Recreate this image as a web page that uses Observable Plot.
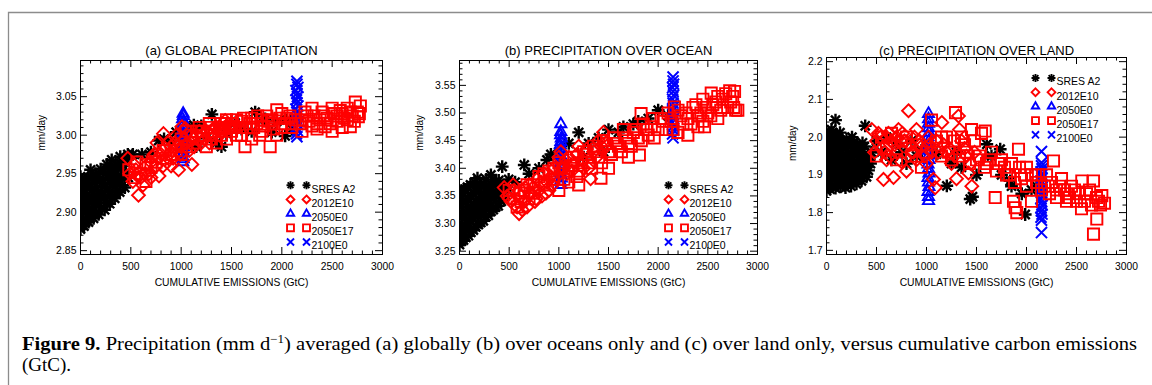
<!DOCTYPE html>
<html><head><meta charset="utf-8">
<script src="https://cdn.jsdelivr.net/npm/d3@7"></script>
<script src="https://cdn.jsdelivr.net/npm/@observablehq/plot@0.6"></script>
<style>
html,body{margin:0;padding:0;background:#fff;}
#page{position:relative;width:1152px;height:385px;overflow:hidden;background:#fff;}
.panel{position:absolute;top:0;}
</style></head><body><div id="page"></div>
<script>
// ---------- labels ----------
const panelTitles = ["(a) GLOBAL PRECIPITATION", "(b) PRECIPITATION OVER OCEAN", "(c) PRECIPITATION OVER LAND"];
const xAxisLabel = "CUMULATIVE EMISSIONS (GtC)";
const yAxisLabel = "mm/day";
const xTickLabels = [0, 500, 1000, 1500, 2000, 2500, 3000];
const aYTicks = [2.85, 2.90, 2.95, 3.00, 3.05];
const bYTicks = [3.25, 3.30, 3.35, 3.40, 3.45, 3.50, 3.55];
const cYTicks = [1.7, 1.8, 1.9, 2.0, 2.1, 2.2];
const seriesNames = ["SRES A2", "2012E10", "2050E0", "2050E17", "2100E0"];
const seriesColors = ["#000000", "#ff0000", "#0000ff", "#ff0000", "#0000ff"];
const seriesSymbols = [["plus", "times"], ["diamond2"], ["triangle2"], ["square2"], ["times"]];
const captionBold = "Figure 9.";
const captionLine1a = " Precipitation (mm d";
const captionSup = "−1";
const captionLine1b = ") averaged (a) globally (b) over oceans only and (c) over land only, versus cumulative carbon emissions";
const captionLine2 = "(GtC).";

// ---------- (a) global ----------
const aA2 = [[0,2.878],[0,2.893],[0,2.908],[0,2.922],[0,2.936],[0,2.946],
[20,2.886],[15,2.901],[20,2.915],[18,2.930],[22,2.941],
[35,2.882],[30,2.899],[40,2.914],[35,2.929],[45,2.942],
[60,2.890],[55,2.906],[62,2.921],[58,2.936],
[80,2.887],[75,2.903],[85,2.918],[90,2.933],[100,2.955],[80,2.945],
[105,2.896],[110,2.912],[108,2.928],[112,2.944],
[130,2.892],[125,2.907],[135,2.922],[140,2.938],[150,2.950],
[158,2.900],[160,2.916],[162,2.932],[165,2.946],
[180,2.897],[185,2.912],[175,2.927],[190,2.942],[200,2.956],
[210,2.906],[215,2.922],[212,2.938],[218,2.952],
[240,2.903],[235,2.918],[245,2.933],[250,2.950],[262,2.962],
[265,2.912],[268,2.928],[270,2.944],
[290,2.911],[285,2.926],[300,2.941],[295,2.957],[310,2.968],
[318,2.920],[320,2.936],[322,2.952],
[340,2.918],[345,2.934],[335,2.950],[350,2.962],
[368,2.928],[365,2.944],[370,2.960],
[390,2.926],[385,2.942],[400,2.958],[395,2.972],
[418,2.935],[420,2.950],[425,2.965],
[440,2.932],[445,2.948],[450,2.964],[470,2.975],[475,2.945],
[520,2.975],[610,2.975],[700,2.978],[776,2.993],[830,2.995],[900,2.992],[950,3.004],[1000,3.000],[1080,3.008],[1126,3.013],[1200,3.012],[1150,2.985],[1250,2.996],[1305,3.027],[1350,2.990],[1400,2.985],[1450,3.002],[1536,3.016],[1600,3.008],[1700,3.005],[1735,3.030],[1834,3.021],[1900,3.004],[1950,3.018],[2033,2.999],[2050,3.020],[2100,3.008]];
const aE10 = [[470,2.970],[490,2.950],[520,2.940],[530,2.962],[550,2.955],[560,2.948],[576,2.922],[600,2.945],[620,2.935],[640,2.950],[650,2.960],[680,2.950],[700,2.965],[700,2.945],[720,2.972],[730,2.975],[750,2.960],[770,2.970],[780,2.947],[800,2.975],[820,2.960],[824,3.002],[841,2.983],[860,2.965],[870,2.990],[880,2.975],[900,2.985],[900,2.960],[920,2.970],[940,2.990],[960,2.985],[974,2.955],[990,2.975],[1007,3.011],[1030,2.995],[1040,3.009],[1060,2.990],[1080,2.980],[1106,2.962],[1120,2.995],[1130,2.985],[1150,3.000],[1180,3.005],[1200,2.990],[1230,2.995],[1250,3.005],[1280,2.990],[1300,3.000],[1330,3.010],[1350,3.010],[1380,3.000],[1400,3.005],[1430,3.010],[1437,3.019],[1480,3.012],[950,3.000],[1000,2.985],[760,2.990]];
const aE2050 = [[1015,2.965],[1020,2.969],[1010,2.973],[1025,2.977],[1015,2.981],[1020,2.985],[1010,2.989],[1025,2.993],[1018,2.997],[1020,3.001],[1012,3.005],[1024,3.009],[1016,3.013],[1020,3.017],[1014,3.021],[1022,3.025],[1020,3.028]];
const aE17 = [[480,2.955],[540,2.945],[560,2.965],[600,2.950],[650,2.940],[650,2.962],[700,2.958],[750,2.965],[820,2.980],[850,2.970],[900,2.975],[950,2.980],[1000,2.995],[1000,2.975],[1050,2.985],[1050,3.005],[1100,3.000],[1120,2.990],[1150,3.005],[1180,3.010],[1200,2.995],[1200,3.005],[1220,3.000],[1250,2.985],[1280,3.015],[1300,3.010],[1300,2.995],[1330,3.005],[1350,2.990],[1380,3.010],[1400,3.015],[1400,3.000],[1420,3.008],[1450,3.020],[1450,2.995],[1480,3.010],[1500,3.015],[1500,3.005],[1520,3.012],[1550,3.020],[1550,3.000],[1580,3.010],[1600,3.018],[1600,3.000],[1620,3.022],[1634,2.985],[1650,3.010],[1680,3.015],[1700,3.022],[1700,2.995],[1720,3.010],[1750,3.015],[1760,3.025],[1780,3.000],[1800,3.020],[1800,3.005],[1820,3.012],[1850,3.025],[1870,3.018],[1884,2.985],[1900,3.015],[1900,3.020],[1920,3.008],[1950,3.033],[1950,3.000],[1980,3.022],[2000,3.028],[2000,3.010],[2030,3.015],[2050,3.022],[2080,3.025],[2100,3.010],[2100,3.015],[2130,3.020],[2180,3.015],[2200,3.020],[2200,3.005],[2230,3.030],[2250,3.025],[2270,3.018],[2300,3.035],[2300,3.012],[2320,3.025],[2350,3.015],[2350,3.008],[2380,3.020],[2400,3.030],[2420,3.025],[2430,3.011],[2450,3.022],[2480,3.015],[2500,3.035],[2500,3.005],[2520,3.028],[2550,3.018],[2550,3.025],[2580,3.032],[2600,3.028],[2600,3.010],[2620,3.022],[2650,3.035],[2650,3.020],[2680,3.011],[2680,3.030],[2700,3.025],[2720,3.018],[2730,3.043],[2750,3.030],[2760,3.024],[2770,3.028],[2780,3.038]];
const aE2100 = [[2150,2.998],[2145,3.002],[2155,3.006],[2140,3.010],[2160,3.014],[2150,3.018],[2145,3.022],[2155,3.026],[2150,3.030],[2140,3.034],[2160,3.038],[2150,3.042],[2145,3.046],[2155,3.050],[2150,3.054],[2140,3.058],[2160,3.062],[2150,3.066],[2150,3.070]];

// ---------- (b) ocean ----------
const bA2 = [[0,3.262],[0,3.280],[0,3.300],[0,3.320],[0,3.340],[0,3.356],
[20,3.268],[18,3.290],[22,3.310],[20,3.330],[18,3.350],
[40,3.270],[45,3.292],[35,3.315],[40,3.338],[45,3.360],
[65,3.275],[62,3.296],[68,3.318],[65,3.340],[60,3.362],
[90,3.278],[85,3.300],[95,3.322],[90,3.345],[80,3.366],
[115,3.284],[112,3.305],[118,3.328],[115,3.350],[110,3.370],
[140,3.288],[135,3.310],[145,3.332],[140,3.355],[150,3.375],
[165,3.294],[162,3.316],[168,3.338],[165,3.360],
[190,3.298],[185,3.320],[195,3.342],[190,3.364],[181,3.382],
[215,3.302],[212,3.325],[218,3.348],[215,3.370],
[240,3.305],[235,3.330],[245,3.352],[250,3.372],
[265,3.312],[268,3.335],[262,3.358],[270,3.380],
[290,3.315],[285,3.338],[295,3.360],[316,3.388],
[318,3.322],[315,3.345],[320,3.366],
[340,3.325],[345,3.348],[335,3.370],
[365,3.330],[362,3.352],[368,3.375],
[390,3.332],[385,3.355],[395,3.378],
[420,3.340],[418,3.362],[430,3.403],[450,3.345],[455,3.368],[490,3.360],[495,3.380],
[560,3.375],[652,3.406],[700,3.390],[800,3.400],[880,3.415],[920,3.425],[1000,3.430],[1100,3.445],[1200,3.465],[1250,3.420],[1300,3.445],[1400,3.455],[1450,3.430],[1500,3.470],[1600,3.465],[1650,3.475],[1750,3.480],[1800,3.485],[1900,3.490],[2000,3.505],[2100,3.495]];
const bE10 = [[450,3.365],[480,3.350],[500,3.345],[520,3.340],[540,3.370],[550,3.360],[580,3.330],[600,3.318],[620,3.350],[630,3.325],[650,3.340],[660,3.365],[680,3.330],[700,3.370],[720,3.355],[740,3.365],[760,3.340],[770,3.345],[780,3.380],[800,3.360],[820,3.375],[830,3.350],[850,3.390],[870,3.355],[880,3.375],[900,3.360],[920,3.385],[940,3.370],[950,3.400],[980,3.385],[1000,3.420],[1020,3.430],[1030,3.400],[1050,3.400],[1070,3.415],[1080,3.390],[1100,3.420],[1130,3.395],[1150,3.410],[1180,3.425],[1200,3.440],[1230,3.415],[1250,3.400],[1280,3.435],[1300,3.400],[1320,3.381],[1350,3.430],[1380,3.420],[1400,3.450],[1430,3.440],[1450,3.465],[1480,3.440]];
const bE2050 = [[1020,3.370],[1015,3.376],[1025,3.382],[1020,3.388],[1010,3.394],[1025,3.400],[1015,3.406],[1020,3.412],[1020,3.418],[1015,3.424],[1025,3.430],[1020,3.436],[1015,3.442],[1020,3.448],[1025,3.454],[1018,3.460],[1020,3.466],[1020,3.480]];
const bE17 = [[500,3.360],[550,3.345],[580,3.330],[600,3.355],[620,3.340],[650,3.360],[680,3.370],[700,3.345],[750,3.370],[750,3.355],[800,3.385],[850,3.370],[850,3.390],[900,3.395],[950,3.380],[950,3.400],[1000,3.410],[1000,3.360],[1050,3.380],[1050,3.400],[1100,3.395],[1100,3.375],[1130,3.405],[1150,3.420],[1180,3.385],[1200,3.395],[1200,3.370],[1230,3.410],[1250,3.430],[1280,3.425],[1300,3.410],[1330,3.400],[1350,3.440],[1380,3.435],[1400,3.420],[1424,3.382],[1430,3.410],[1450,3.450],[1480,3.445],[1500,3.430],[1500,3.400],[1530,3.425],[1550,3.455],[1580,3.445],[1600,3.440],[1630,3.430],[1650,3.470],[1680,3.455],[1700,3.445],[1700,3.420],[1730,3.440],[1750,3.465],[1780,3.470],[1800,3.455],[1811,3.424],[1828,3.499],[1830,3.450],[1850,3.480],[1880,3.470],[1900,3.460],[1930,3.475],[1950,3.490],[1960,3.455],[2000,3.470],[2030,3.490],[2050,3.485],[2080,3.470],[2100,3.500],[2130,3.485],[2150,3.470],[2164,3.511],[2200,3.465],[2200,3.505],[2230,3.495],[2250,3.480],[2280,3.500],[2299,3.460],[2300,3.490],[2330,3.480],[2350,3.510],[2380,3.515],[2400,3.495],[2400,3.475],[2430,3.500],[2450,3.525],[2450,3.485],[2467,3.475],[2480,3.510],[2500,3.500],[2530,3.495],[2534,3.536],[2550,3.515],[2580,3.520],[2600,3.490],[2600,3.530],[2630,3.505],[2650,3.525],[2680,3.535],[2700,3.510],[2720,3.540],[2730,3.520],[2750,3.530],[2760,3.510],[2769,3.539],[2780,3.505],[2802,3.505]];
const bE2100 = [[2150,3.455],[2145,3.462],[2155,3.469],[2150,3.476],[2145,3.483],[2155,3.490],[2150,3.497],[2145,3.504],[2155,3.511],[2150,3.518],[2145,3.525],[2155,3.532],[2150,3.539],[2145,3.546],[2155,3.552],[2150,3.558],[2150,3.565]];

// ---------- (c) land ----------
const cA2 = [[0,1.858],[0,1.880],[0,1.902],[0,1.925],[0,1.948],[0,1.970],[0,1.992],[0,2.015],
[15,1.870],[18,1.892],[15,1.914],[20,1.936],[15,1.960],[18,1.982],[20,2.005],
[35,1.862],[30,1.885],[40,1.908],[35,1.932],[45,1.955],[30,1.978],[40,2.000],[50,2.020],
[62,1.872],[60,1.896],[65,1.920],[62,1.944],[60,1.968],[65,1.992],[62,2.012],
[90,1.865],[85,1.890],[95,1.915],[80,1.938],[100,1.962],[90,1.985],[95,2.008],[90,2.045],
[115,1.876],[112,1.902],[118,1.928],[115,1.952],[112,1.976],[118,2.000],
[140,1.868],[145,1.892],[135,1.918],[150,1.942],[140,1.966],[145,1.990],[135,2.012],
[165,1.878],[168,1.904],[162,1.930],[168,1.955],[165,1.980],
[190,1.866],[195,1.894],[185,1.920],[200,1.945],[190,1.970],[200,1.995],
[218,1.880],[215,1.906],[220,1.932],[218,1.958],[215,1.984],
[245,1.870],[240,1.896],[250,1.922],[245,1.948],[240,1.975],[255,2.000],
[272,1.884],[270,1.910],[275,1.936],[270,1.962],[275,1.988],
[300,1.876],[295,1.900],[305,1.926],[300,1.952],[310,1.978],
[325,1.890],[328,1.915],[322,1.940],[328,1.966],
[350,1.884],[345,1.910],[355,1.935],[350,1.960],[360,1.985],
[375,1.898],[378,1.925],[372,1.950],[378,1.975],
[400,1.895],[395,1.920],[405,1.945],[387,2.030],[420,1.912],[425,1.940],[440,1.930],[450,1.960],
[500,1.990],[550,1.960],[600,2.000],[650,1.940],[700,1.985],[750,1.960],[800,1.930],[850,1.990],[900,1.950],[950,1.965],[1100,1.955],[1203,1.871],[1250,1.930],[1300,1.960],[1350,1.920],[1437,1.836],[1460,1.842],[1500,1.900],[1603,1.981],[1650,1.950],[1737,1.968],[1750,1.900],[1837,1.884],[1850,1.870],[1953,1.850],[1987,1.795],[2050,1.860],[2100,1.870]];
const cE10 = [[453,2.020],[480,1.960],[500,1.990],[520,2.010],[540,2.000],[550,1.970],[570,1.888],[580,1.960],[600,1.940],[600,2.000],[620,2.010],[630,1.950],[650,1.990],[670,1.893],[680,1.980],[700,1.960],[700,2.000],[720,2.020],[740,1.990],[750,1.935],[760,2.010],[780,1.990],[800,1.910],[820,2.070],[830,1.980],[850,1.960],[870,1.960],[880,2.000],[900,1.940],[900,2.020],[930,1.990],[950,1.975],[980,1.950],[1000,1.930],[1020,2.000],[1030,1.980],[1050,1.960],[1070,1.888],[1087,1.866],[1100,1.990],[1120,1.960],[1153,2.039],[1170,1.980],[1200,1.960],[1230,1.970],[1250,1.930],[1280,1.950],[1300,1.890],[1320,2.056],[1330,2.020],[1350,1.990],[1380,1.970],[1400,1.950],[1420,1.905],[1440,1.930],[1453,1.870],[1480,1.960]];
const cE2050 = [[1020,1.831],[1020,1.842],[1015,1.855],[1025,1.868],[1020,1.880],[1015,1.892],[1025,1.904],[1020,1.916],[1015,1.928],[1025,1.940],[1020,1.952],[1015,1.964],[1025,1.976],[1020,1.988],[1015,2.000],[1025,2.012],[1020,2.024],[1020,2.036],[1020,2.048],[1020,2.062]];
const cE17 = [[500,1.950],[550,2.000],[600,1.970],[650,2.010],[700,1.940],[750,1.990],[800,2.000],[850,1.950],[900,1.980],[950,1.920],[1000,1.960],[1050,2.045],[1100,1.990],[1150,1.950],[1150,2.000],[1200,2.000],[1220,1.960],[1250,1.940],[1280,1.990],[1290,2.065],[1330,1.950],[1350,2.000],[1380,1.980],[1400,1.960],[1430,1.930],[1450,2.020],[1480,1.990],[1500,1.940],[1530,1.950],[1550,2.010],[1580,1.920],[1587,2.016],[1600,1.930],[1630,1.940],[1650,1.960],[1687,1.840],[1700,1.910],[1720,1.930],[1750,1.940],[1780,1.920],[1800,1.900],[1830,1.900],[1850,1.930],[1870,1.830],[1880,1.880],[1887,1.813],[1903,1.800],[1920,1.968],[1930,1.920],[1950,1.890],[1980,1.900],[2000,1.920],[2000,1.870],[2050,1.900],[2050,1.830],[2100,1.880],[2120,1.900],[2150,1.860],[2180,1.870],[2200,1.900],[2230,1.850],[2250,1.880],[2270,1.937],[2300,1.860],[2300,1.840],[2330,1.870],[2350,1.890],[2380,1.860],[2400,1.850],[2400,1.830],[2430,1.840],[2450,1.870],[2480,1.860],[2500,1.830],[2530,1.850],[2550,1.810],[2553,1.884],[2580,1.830],[2600,1.850],[2630,1.860],[2650,1.820],[2670,1.884],[2670,1.743],[2700,1.840],[2703,1.783],[2720,1.830],[2740,1.820],[2753,1.845],[2780,1.825]];
const cE2100 = [[2150,1.747],[2150,1.780],[2145,1.788],[2155,1.796],[2150,1.804],[2145,1.812],[2155,1.820],[2150,1.828],[2145,1.836],[2155,1.844],[2150,1.852],[2145,1.860],[2155,1.868],[2150,1.876],[2145,1.884],[2155,1.892],[2150,1.900],[2145,1.908],[2155,1.916],[2150,1.924],[2150,1.932],[2150,1.962]];

// ---------- drawing ----------
const FONT = "'Liberation Sans', Arial, Helvetica, sans-serif";
const symbolR = [4.2, 5.8, 5.3, 7.1, 5.1];
const symbolW = [2.4, 1.9, 1.9, 1.9, 2];
const legendR = [2.7, 3.5, 3.5, 4.4, 3.3];

function panel(cfg) {
  const {xDomain, yDomain, ml, mr, mt, mb, width, height} = cfg;
  const innerW = width - ml - mr, innerH = height - mt - mb;
  const pxX = (xDomain[1] - xDomain[0]) / innerW, pxY = (yDomain[1] - yDomain[0]) / innerH;
  const MAJ = 7, MIN = 3.5;
  const xMinor = d3.range(0, Math.round(xDomain[1] / cfg.xMinorStep) + 1).map(k => k * cfg.xMinorStep);
  const k0 = Math.ceil(yDomain[0] / cfg.yMinorStep - 1e-9), k1 = Math.floor(yDomain[1] / cfg.yMinorStep + 1e-9);
  const yMinor = d3.range(k0, k1 + 1).map(k => +(k * cfg.yMinorStep).toFixed(6));
  const isMaj = (v, s) => Math.abs(v / s - Math.round(v / s)) < 1e-6;
  const lx = v => (isMaj(v, cfg.xMajorStep) ? MAJ : MIN);
  const ly = v => (isMaj(v, cfg.yMajorStep) ? MAJ : MIN);
  const marks = [
    Plot.ruleX(xMinor, {x: d => d, y1: () => yDomain[0], y2: d => yDomain[0] + lx(d) * pxY, stroke: "#000", strokeWidth: 1}),
    Plot.ruleX(xMinor, {x: d => d, y1: () => yDomain[1], y2: d => yDomain[1] - lx(d) * pxY, stroke: "#000", strokeWidth: 1}),
    Plot.ruleY(yMinor, {y: d => d, x1: () => xDomain[0], x2: d => xDomain[0] + ly(d) * pxX, stroke: "#000", strokeWidth: 1}),
    Plot.ruleY(yMinor, {y: d => d, x1: () => xDomain[1], x2: d => xDomain[1] - ly(d) * pxX, stroke: "#000", strokeWidth: 1})
  ];
  // draw order: A2, 2050E0, 2100E0, 2012E10, 2050E17
  const order = [0, 2, 4, 1, 3];
  for (const i of order) {
    for (const sym of seriesSymbols[i]) {
      marks.push(Plot.dot(cfg.series[i], {x: d => d[0], y: d => d[1], symbol: sym, stroke: seriesColors[i], fill: "none", r: symbolR[i], strokeWidth: symbolW[i], clip: true}));
    }
  }
  marks.push(Plot.frame({stroke: "#000", strokeWidth: 1}));
  marks.push(Plot.axisX({ticks: xTickLabels, tickSize: 0, tickPadding: 8, label: null, fontSize: 10.3, tickFormat: d3.format("d")}));
  marks.push(Plot.axisY({ticks: cfg.yTicks, tickSize: 0, tickPadding: 4, label: null, fontSize: 10.5, tickFormat: d3.format(cfg.yFormat)}));
  marks.push(Plot.text([cfg.title], {x: null, y: null, text: d => d, frameAnchor: "top", dy: cfg.titleDy, fontSize: 13}));
  marks.push(Plot.text([xAxisLabel], {x: null, y: null, text: d => d, frameAnchor: "bottom", dy: 31, fontSize: 10.3}));
  marks.push(Plot.text([yAxisLabel], {x: null, y: null, text: d => d, frameAnchor: "left", dx: cfg.yLabDx, dy: cfg.yLabDy, rotate: -90, fontSize: 10}));
  for (let i = 0; i < 5; i++) {
    const dy = cfg.legY + i * cfg.legStep;
    for (const dx of [cfg.legX1, cfg.legX2]) {
      for (const sym of seriesSymbols[i]) {
        marks.push(Plot.dot([i], {x: null, y: null, frameAnchor: "top-left", dx, dy, symbol: sym, stroke: seriesColors[i], fill: "none", r: legendR[i], strokeWidth: 1.9}));
      }
    }
    marks.push(Plot.text([seriesNames[i]], {x: null, y: null, text: d => d, frameAnchor: "top-left", dx: cfg.legXT, dy, textAnchor: "start", fontSize: 10.5}));
  }
  const svg = Plot.plot({
    width, height, marginLeft: ml, marginRight: mr, marginTop: mt, marginBottom: mb,
    x: {domain: xDomain}, y: {domain: yDomain},
    style: {fontFamily: FONT, fontSize: "10px", background: "transparent", color: "#000", overflow: "visible"},
    marks
  });
  const holder = document.createElement("div");
  holder.className = "panel";
  holder.style.left = cfg.left + "px";
  holder.appendChild(svg);
  document.getElementById("page").appendChild(holder);
}

const common = {xDomain: [0, 3000], xMinorStep: 100, xMajorStep: 500, height: 300, mb: 46};
panel({...common, left: 0, width: 400, ml: 80, mr: 18, mt: 60, yDomain: [2.845, 3.097], yMinorStep: 0.01, yMajorStep: 0.05,
  yTicks: aYTicks, yFormat: ".2f", title: panelTitles[0], titleDy: -15, yLabDx: -39, yLabDy: -7,
  legX1: 210, legX2: 226, legXT: 231, legY: 124.7, legStep: 14.2,
  series: [aA2, aE10, aE2050, aE17, aE2100]});
panel({...common, left: 380, width: 400, ml: 79, mr: 23, mt: 60, yDomain: [3.244, 3.595], yMinorStep: 0.01, yMajorStep: 0.05,
  yTicks: bYTicks, yFormat: ".2f", title: panelTitles[1], titleDy: -15, yLabDx: -40, yLabDy: -7,
  legX1: 209, legX2: 225, legXT: 230, legY: 124.7, legStep: 14.2,
  series: [bA2, bE10, bE2050, bE17, bE2100]});
panel({...common, left: 760, width: 392, ml: 66, mr: 26, mt: 57, yDomain: [1.689, 2.211], yMinorStep: 0.02, yMajorStep: 0.1,
  yTicks: cYTicks, yFormat: ".1f", title: panelTitles[2], titleDy: -12, yLabDx: -34, yLabDy: 5,
  legX1: 209, legX2: 225, legXT: 230, legY: 20.5, legStep: 14.2,
  series: [cA2, cE10, cE2050, cE17, cE2100]});

// ---------- border + caption ----------
const deco = d3.select("#page").append("svg")
  .attr("width", 1152).attr("height", 385)
  .style("position", "absolute").style("left", "0px").style("top", "0px");
deco.append("path").attr("d", "M8.5,385 V12.5 H1152").attr("fill", "none").attr("stroke", "#8c8c8c").attr("stroke-width", 1.3);
const cap = deco.append("text").attr("x", 22).attr("y", 350)
  .attr("font-family", "'Liberation Serif', 'Times New Roman', serif").attr("font-size", 19).attr("fill", "#000")
  .attr("textLength", 1115).attr("lengthAdjust", "spacingAndGlyphs");
cap.append("tspan").attr("font-weight", "bold").text(captionBold);
cap.append("tspan").text(captionLine1a);
cap.append("tspan").attr("dy", -7).attr("font-size", 12).text(captionSup);
cap.append("tspan").attr("dy", 7).text(captionLine1b);
deco.append("text").attr("x", 22).attr("y", 371)
  .attr("font-family", "'Liberation Serif', 'Times New Roman', serif").attr("font-size", 19).attr("fill", "#000")
  .text(captionLine2);
</script></body></html>
